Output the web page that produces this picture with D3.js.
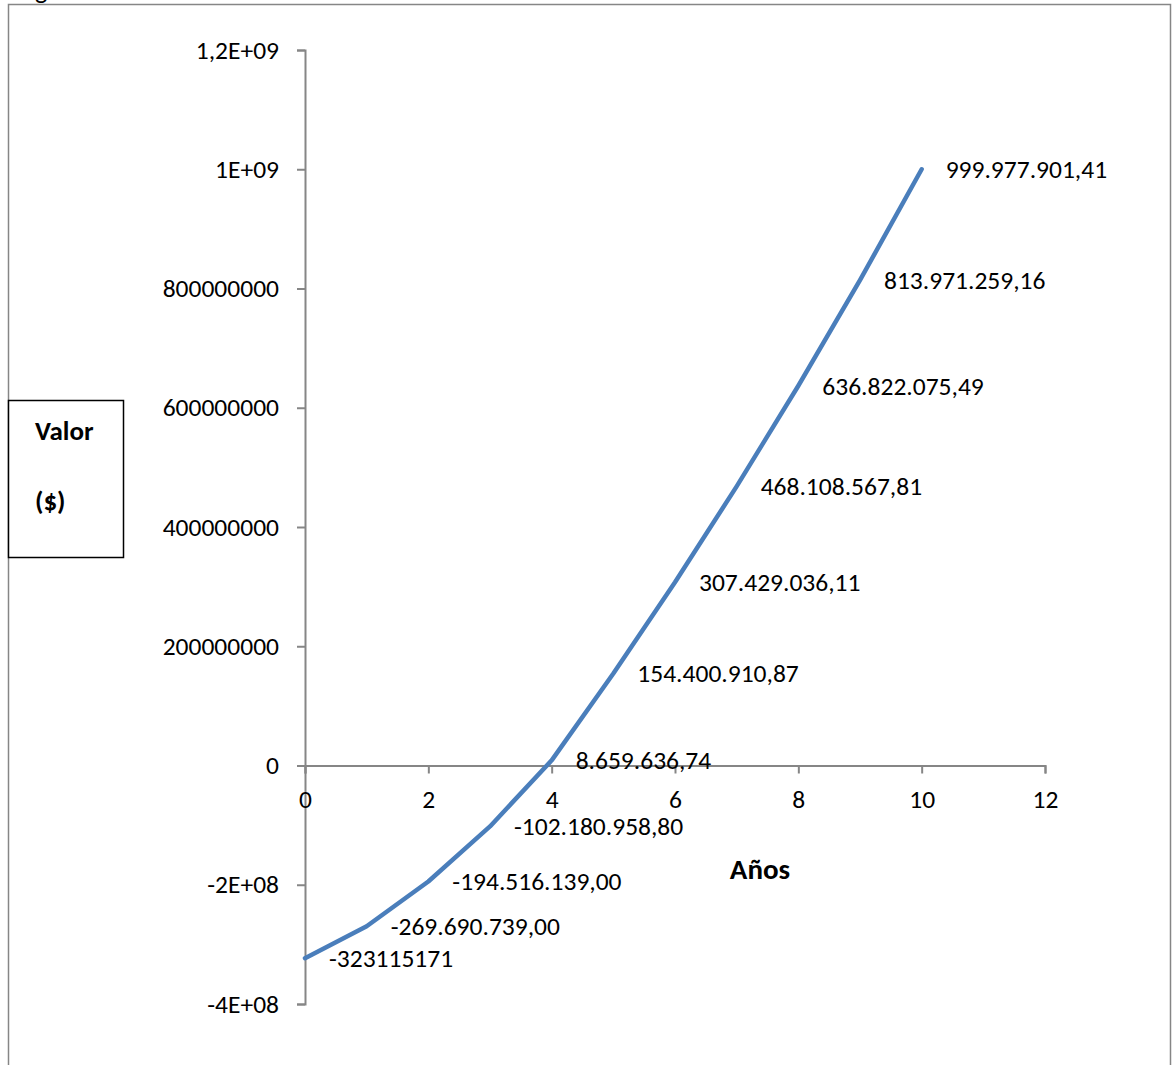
<!DOCTYPE html>
<html>
<head>
<meta charset="utf-8">
<script src="https://cdn.jsdelivr.net/npm/d3@7"></script>
<style>
  html, body { margin: 0; padding: 0; background: #fff; }
  svg { display: block; }
  text { font-family: Carlito, Calibri, Lato, "Open Sans", sans-serif; fill: #000; }
</style>
</head>
<body>
<svg id="chart" width="1172" height="1065"></svg>
<script>
// Años del proyecto
const years = [0, 1, 2, 3, 4, 5, 6, 7, 8, 9, 10];
// Valor acumulado por año ($)
const values = [
  -323115171, -269690739.00, -194516139.00, -102180958.80, 8659636.74,
  154400910.87, 307429036.11, 468108567.81, 636822075.49, 813971259.16,
  999977901.41
];
// Etiquetas de datos, tal como se muestran
const valueLabels = [
  "-323115171", "-269.690.739,00", "-194.516.139,00", "-102.180.958,80",
  "8.659.636,74", "154.400.910,87", "307.429.036,11", "468.108.567,81",
  "636.822.075,49", "813.971.259,16", "999.977.901,41"
];
// Marcas del eje vertical y sus textos
const yTickValues = [-4e8, -2e8, 0, 2e8, 4e8, 6e8, 8e8, 1e9, 1.2e9];
const yTickLabels = ["-4E+08", "-2E+08", "0", "200000000", "400000000",
  "600000000", "800000000", "1E+09", "1,2E+09"];
// Marcas del eje horizontal
const xTickValues = [0, 2, 4, 6, 8, 10, 12];

const svg = d3.select("#chart");
const axisColor = "#868686";
const fontSize = 25.5;
const fontStack = "Carlito, Calibri, Lato, 'Open Sans', sans-serif";

// Marco exterior y fragmento del título superior
svg.append("text").attr("x", 35).attr("y", -1)
  .style("font-size", "26px").text("g");
svg.append("rect")
  .attr("x", 8.5).attr("y", 4.5).attr("width", 1162).attr("height", 1080)
  .attr("fill", "none").attr("stroke", axisColor).attr("stroke-width", 1.5);

const x = d3.scaleLinear().domain([0, 12]).range([305, 1045]);
const y = d3.scaleLinear().domain([-4e8, 1.2e9]).range([1004, 50]);

// Eje vertical
const yAxis = d3.axisLeft(y)
  .tickValues(yTickValues)
  .tickFormat((d, i) => yTickLabels[i])
  .tickSize(8)
  .tickPadding(18);
const gy = svg.append("g").attr("transform", `translate(${x(0)},0)`).call(yAxis);
gy.select(".domain").attr("stroke", axisColor).attr("stroke-width", 2);
gy.selectAll(".tick line").attr("stroke", axisColor).attr("stroke-width", 2);
gy.selectAll(".tick text")
  .style("font-size", fontSize + "px")
  .attr("fill", "#000")
  .style("font-family", fontStack);

// Eje horizontal
const xAxis = d3.axisBottom(x)
  .tickValues(xTickValues)
  .tickFormat(d3.format("d"))
  .tickSize(8)
  .tickPadding(16);
const gx = svg.append("g").attr("transform", `translate(0,${y(0)})`).call(xAxis);
gx.select(".domain").attr("stroke", axisColor).attr("stroke-width", 2);
gx.selectAll(".tick line").attr("stroke", axisColor).attr("stroke-width", 2);
gx.selectAll(".tick text")
  .style("font-size", fontSize + "px")
  .attr("fill", "#000")
  .style("font-family", fontStack);

// Serie
const line = d3.line()
  .x((d, i) => x(years[i]))
  .y(d => y(d));
svg.append("path")
  .datum(values)
  .attr("d", line)
  .attr("fill", "none")
  .attr("stroke", "#4a7ebb")
  .attr("stroke-width", 4.5)
  .attr("stroke-linejoin", "round")
  .attr("stroke-linecap", "round");

// Etiquetas de datos
svg.append("g").selectAll("text")
  .data(values)
  .join("text")
  .attr("x", (d, i) => x(years[i]) + 24)
  .attr("y", d => y(d))
  .attr("dy", "0.35em")
  .style("font-size", fontSize + "px")
  .text((d, i) => valueLabels[i]);

// Título del eje horizontal
svg.append("text")
  .attr("x", 760).attr("y", 869).attr("dy", "0.35em")
  .attr("text-anchor", "middle")
  .style("font-size", "29px").style("font-weight", "bold")
  .text("Años");

// Cuadro del título vertical
svg.append("rect")
  .attr("x", 8.5).attr("y", 400.5).attr("width", 115).attr("height", 157)
  .attr("fill", "#fff").attr("stroke", "#000").attr("stroke-width", 1.5);
svg.append("text")
  .attr("x", 35).attr("y", 431).attr("dy", "0.35em")
  .style("font-size", "27px").style("font-weight", "bold")
  .text("Valor");
svg.append("text")
  .attr("x", 35).attr("y", 501).attr("dy", "0.35em")
  .style("font-size", "27px").style("font-weight", "bold")
  .text("($)");
</script>
</body>
</html>
